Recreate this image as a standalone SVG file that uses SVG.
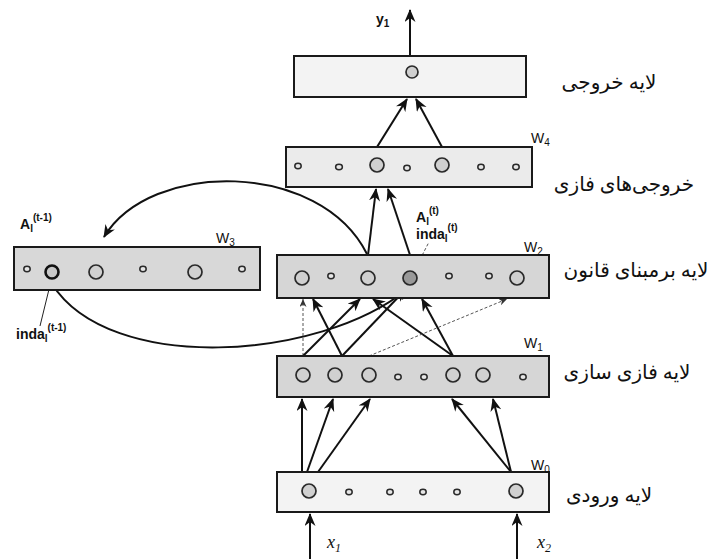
<svg xmlns="http://www.w3.org/2000/svg" width="710" height="559" viewBox="0 0 710 559">
<style>
.box{stroke:#1a1a1a;stroke-width:2}
.big{fill:#d0d0d0;stroke:#2a2a2a;stroke-width:1.7}
.sm{fill:#e6e6e6;stroke:#2a2a2a;stroke-width:1.5}
.ln{stroke:#111;stroke-width:2;fill:none}
.dl{stroke:#555;stroke-width:1;stroke-dasharray:3,2;fill:none}
.lbl{font-family:"Liberation Sans",Arial,sans-serif;font-size:14px;font-weight:bold;fill:#111}
.wl{font-family:"Liberation Sans",Arial,sans-serif;font-size:14px;fill:#111}
.sub{font-size:10px}
.inp{font-family:"Liberation Serif","Times New Roman",serif;font-style:italic;font-size:18px;fill:#111}
.fa{font-family:"Liberation Serif","DejaVu Sans",serif;font-size:20px;fill:#111}
</style>
<defs>
<marker id="arr" markerUnits="userSpaceOnUse" markerWidth="15" markerHeight="12" refX="12" refY="5.5" orient="auto">
<path d="M0,0 L13,5.5 L0,11 L4,5.5 z" fill="#111"/>
</marker>
<marker id="arrs" markerUnits="userSpaceOnUse" markerWidth="10" markerHeight="8" refX="8" refY="3.5" orient="auto">
<path d="M0,0 L8,3.5 L0,7 L2.5,3.5 z" fill="#333"/>
</marker>
</defs>
<rect width="710" height="559" fill="#ffffff"/>

<g id="connectors">
<line class="ln" x1="410" y1="56" x2="410" y2="10" marker-end="url(#arr)"/>
<line class="ln" x1="377" y1="147" x2="407" y2="99" marker-end="url(#arr)"/>
<line class="ln" x1="442" y1="147" x2="416" y2="99" marker-end="url(#arr)"/>
<line class="ln" x1="368" y1="255" x2="376" y2="189" marker-end="url(#arr)"/>
<line class="ln" x1="410" y1="255" x2="388" y2="189" marker-end="url(#arr)"/>
<path class="ln" d="M367,254 C320,160 150,160 104,237" marker-end="url(#arr)"/>
<path class="ln" d="M52,284 C110,375 320,360 406,290" marker-end="url(#arr)"/>
<line x1="52" y1="277" x2="40" y2="326" stroke="#222" stroke-width="1"/>
<line class="dl" x1="413" y1="273" x2="429" y2="242"/>
<line class="dl" x1="303" y1="356" x2="303" y2="299" marker-end="url(#arrs)"/>
<line class="ln" x1="342" y1="356" x2="313" y2="299" marker-end="url(#arr)"/>
<line class="ln" x1="303" y1="356" x2="360" y2="299" marker-end="url(#arr)"/>
<line class="ln" x1="342" y1="356" x2="407" y2="288" marker-end="url(#arr)"/>
<line class="ln" x1="453" y1="356" x2="373" y2="299" marker-end="url(#arr)"/>
<line class="ln" x1="453" y1="356" x2="422" y2="299" marker-end="url(#arr)"/>
<line class="dl" x1="369" y1="356" x2="507" y2="299" marker-end="url(#arrs)"/>
<line class="ln" x1="302" y1="472" x2="302" y2="399" marker-end="url(#arr)"/>
<line class="ln" x1="307" y1="472" x2="333" y2="399" marker-end="url(#arr)"/>
<line class="ln" x1="318" y1="472" x2="370" y2="399" marker-end="url(#arr)"/>
<line class="ln" x1="511" y1="472" x2="452" y2="399" marker-end="url(#arr)"/>
<line class="ln" x1="511" y1="472" x2="493" y2="399" marker-end="url(#arr)"/>
<line class="ln" x1="310" y1="559" x2="310" y2="514" marker-end="url(#arr)"/>
<line class="ln" x1="517" y1="559" x2="517" y2="514" marker-end="url(#arr)"/>
</g>

<g id="output-layer">
<rect class="box" x="294" y="56" width="232" height="41" fill="#f3f3f3"/>
<circle class="big" cx="412" cy="72" r="6"/>
<text class="lbl" x="376" y="24" font-size="16">y<tspan class="sub" dy="3">1</tspan></text>
</g>

<g id="w4-layer">
<rect class="box" x="286" y="147" width="246" height="40" fill="#ebebeb"/>
<ellipse class="sm" cx="298" cy="166" rx="3.2" ry="2.7"/>
<ellipse class="sm" cx="339" cy="167" rx="3.4" ry="2.7"/>
<circle class="big" cx="377" cy="165" r="7"/>
<ellipse class="sm" cx="407" cy="168" rx="3.2" ry="2.7"/>
<circle class="big" cx="442" cy="165" r="7"/>
<ellipse class="sm" cx="481" cy="167" rx="3.2" ry="2.7"/>
<ellipse class="sm" cx="516" cy="167" rx="3.2" ry="2.7"/>
<text class="wl" x="531" y="143">W<tspan class="sub" dy="3">4</tspan></text>
</g>

<g id="w3-layer">
<rect class="box" x="14" y="247" width="246" height="43" fill="#d8d8d8"/>
<ellipse class="sm" cx="27" cy="269" rx="3.2" ry="2.7"/>
<circle cx="52" cy="272" r="6.5" fill="#c8c8c8" stroke="#111" stroke-width="2.6"/>
<circle class="big" cx="96" cy="272" r="7"/>
<ellipse class="sm" cx="143" cy="269" rx="3.2" ry="2.7"/>
<circle class="big" cx="195" cy="272" r="7"/>
<ellipse class="sm" cx="242" cy="269" rx="3.2" ry="2.7"/>
<text class="wl" x="216" y="243">W<tspan class="sub" dy="3">3</tspan></text>
<text class="lbl" x="20" y="229">A<tspan class="sub" dy="3">l</tspan><tspan class="sub" dy="-11">(t-1)</tspan></text>
<text class="lbl" x="16" y="339">inda<tspan class="sub" dy="3">l</tspan><tspan class="sub" dy="-11">(t-1)</tspan></text>
</g>

<g id="w2-layer">
<rect class="box" x="277" y="255" width="272" height="43" fill="#d6d6d6"/>
<circle class="big" cx="302" cy="278" r="7"/>
<ellipse class="sm" cx="331" cy="276" rx="3.2" ry="2.7"/>
<circle class="big" cx="368" cy="278" r="7"/>
<circle cx="410" cy="278" r="7" fill="#999" stroke="#2a2a2a" stroke-width="1.7"/>
<ellipse class="sm" cx="449" cy="276" rx="3.2" ry="2.7"/>
<ellipse class="sm" cx="489" cy="276" rx="3.2" ry="2.7"/>
<circle class="big" cx="517" cy="278" r="7"/>
<text class="wl" x="524" y="252">W<tspan class="sub" dy="3">2</tspan></text>
<text class="lbl" x="416" y="222">A<tspan class="sub" dy="3">l</tspan><tspan class="sub" dy="-11">(t)</tspan></text>
<text class="lbl" x="416" y="239">inda<tspan class="sub" dy="3">l</tspan><tspan class="sub" dy="-11">(t)</tspan></text>
</g>

<g id="w1-layer">
<rect class="box" x="277" y="356" width="272" height="41" fill="#d6d6d6"/>
<circle class="big" cx="303" cy="375" r="7"/>
<circle class="big" cx="335" cy="375" r="7"/>
<circle class="big" cx="369" cy="375" r="7"/>
<ellipse class="sm" cx="398" cy="377" rx="3.2" ry="2.7"/>
<ellipse class="sm" cx="424" cy="377" rx="3.2" ry="2.7"/>
<circle class="big" cx="453" cy="375" r="7"/>
<circle class="big" cx="483" cy="375" r="7"/>
<ellipse class="sm" cx="523" cy="377" rx="3.2" ry="2.7"/>
<text class="wl" x="524" y="348">W<tspan class="sub" dy="3">1</tspan></text>
</g>

<g id="w0-layer">
<rect class="box" x="277" y="472" width="272" height="40" fill="#f3f3f3"/>
<circle class="big" cx="309" cy="491" r="7"/>
<ellipse class="sm" cx="349" cy="492" rx="3.2" ry="2.7"/>
<ellipse class="sm" cx="390" cy="492" rx="3.2" ry="2.7"/>
<ellipse class="sm" cx="423" cy="492" rx="3.2" ry="2.7"/>
<ellipse class="sm" cx="457" cy="492" rx="3.2" ry="2.7"/>
<circle class="big" cx="516" cy="491" r="7"/>
<text class="wl" x="531" y="470">W<tspan class="sub" dy="3">0</tspan></text>
</g>

<g id="inputs">
<text class="inp" x="327" y="548">x<tspan font-size="12" dy="4">1</tspan></text>
<text class="inp" x="537" y="548">x<tspan font-size="12" dy="4">2</tspan></text>
</g>

<g id="persian-labels">
<text class="fa" x="609" y="89" text-anchor="middle">لایه خروجی</text>
<text class="fa" x="624" y="191" text-anchor="middle">خروجی‌های فازی</text>
<text class="fa" x="636" y="277" text-anchor="middle">لایه برمبنای قانون</text>
<text class="fa" x="627" y="379" text-anchor="middle">لایه فازی سازی</text>
<text class="fa" x="609" y="502" text-anchor="middle">لایه ورودی</text>
</g>
</svg>
